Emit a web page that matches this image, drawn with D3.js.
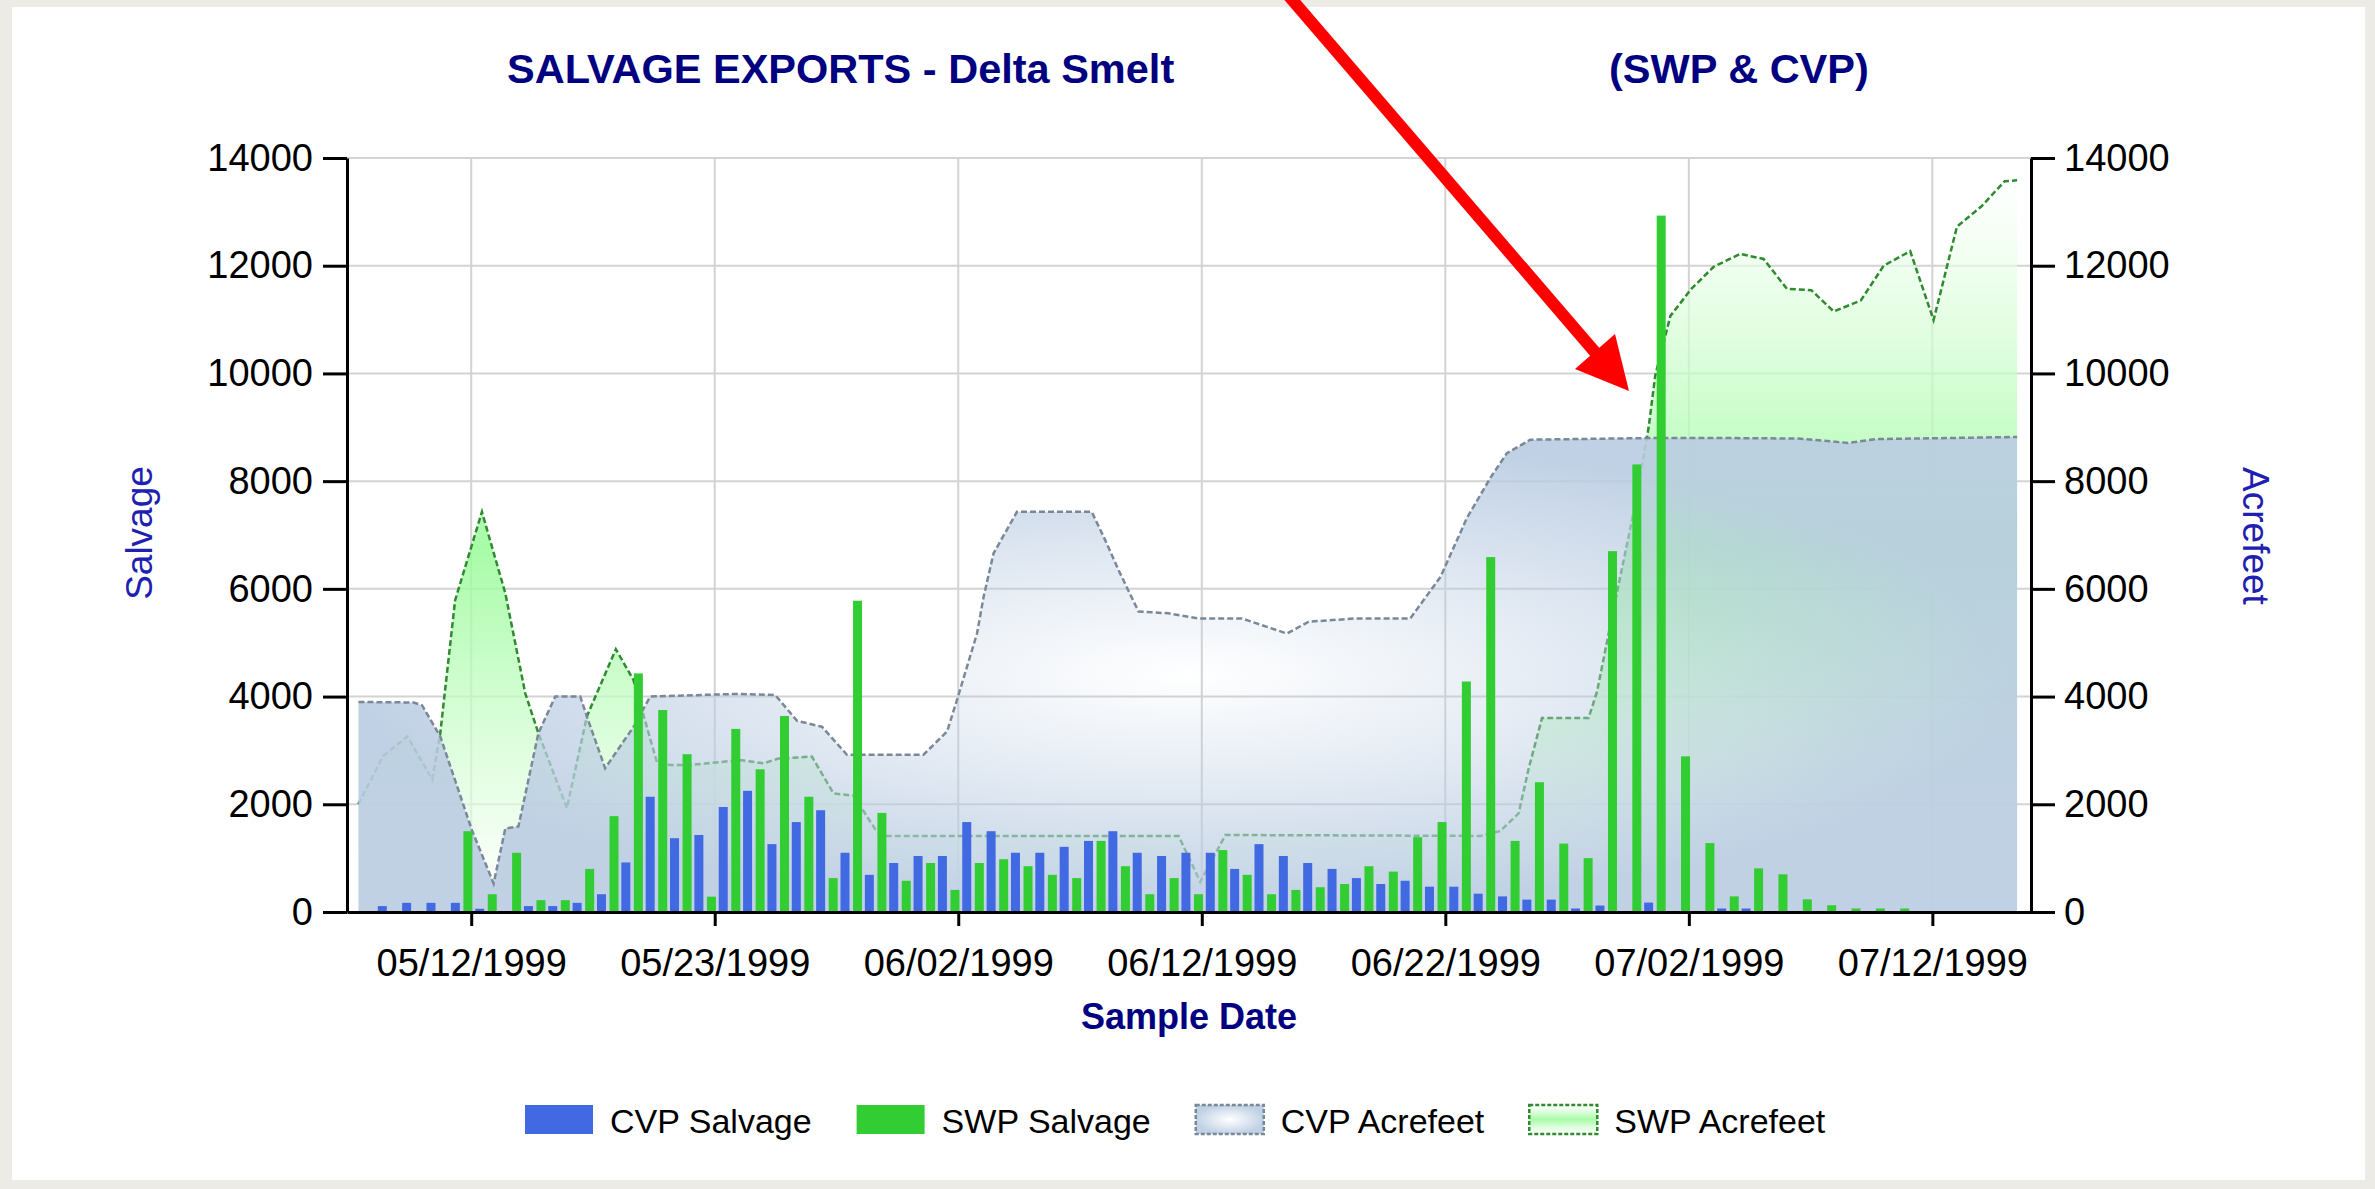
<!DOCTYPE html>
<html>
<head>
<meta charset="utf-8">
<script src="https://cdn.jsdelivr.net/npm/d3@7"></script>
<style>
  body { margin: 0; background: #ecebe6; }
  svg { display: block; font-family: "Liberation Sans", Arial, sans-serif; }
</style>
</head>
<body>
<svg id="chart" width="2375" height="1189"></svg>
<script>
// sample index of each labelled date, and the labels
const tickIndex = [4, 14, 24, 34, 44, 54, 64];
const tickLabels = ["05/12/1999", "05/23/1999", "06/02/1999", "06/12/1999",
  "06/22/1999", "07/02/1999", "07/12/1999"];
const yTicks = [0, 2000, 4000, 6000, 8000, 10000, 12000, 14000];

// daily salvage, one value per sample
const cvpSalvage = [110, 170, 170, 170, 60, 0, 110, 110, 170, 330,
  920, 2140, 1370, 1430, 1950, 2250, 1260, 1670, 1890, 1100,
  690, 910, 1040, 1040, 1670, 1500, 1100, 1100, 1210, 1320,
  1500, 1100, 1040, 1100, 1100, 800, 1260, 1040, 910, 800,
  630, 520, 580, 470, 470, 340, 290, 230, 230, 65,
  120, 0, 175, 0, 0, 65, 65, 0, 0, 0,
  0, 0, 0, 0, 0, 0, 0, 0];
const swpSalvage = [0, 0, 0, 0, 1500, 330, 1100, 220, 220, 800,
  1780, 4430, 3750, 2930, 285, 3400, 2650, 3640, 2140, 630,
  5780, 1840, 580, 910, 410, 910, 980, 850, 690, 630,
  1320, 850, 330, 630, 330, 1150, 690, 330, 410, 460,
  520, 850, 750, 1390, 1670, 4280, 6590, 1320, 2410, 1270,
  1000, 6700, 8310, 12930, 2890, 1280, 290, 810, 700, 235,
  125, 65, 65, 65, 0, 0, 0, 0];

// exports (acre-feet): sample time (in sample-index units) and value
const cvpAcreDay = [-0.63, 1.63, 1.98, 2.73, 4.03, 4.92, 5.40, 5.94, 6.76, 7.45,
  8.48, 8.75, 9.50, 10.67, 11.35, 14.91, 16.48, 17.38, 18.40, 19.43,
  22.57, 23.54, 23.95, 24.77, 25.04, 25.45, 26.41, 29.48, 30.04, 30.58,
  31.40, 32.64, 33.87, 35.65, 37.50, 38.39, 40.30, 42.56, 43.80, 44.89,
  45.85, 46.53, 47.49, 52.28, 55.70, 58.50, 60.55, 61.66, 67.48];
const cvpAcreFeet = [3900, 3890, 3840, 3260, 1520, 530, 1550, 1590, 3320, 4000,
  4000, 3630, 2670, 3440, 4000, 4050, 4030, 3550, 3440, 2920,
  2920, 3350, 3940, 5170, 5850, 6660, 7430, 7430, 6900, 6350,
  5580, 5545, 5450, 5450, 5170, 5390, 5450, 5450, 6220, 7320,
  8060, 8520, 8770, 8800, 8800, 8790, 8710, 8780, 8820];
const swpAcreDay = [-0.64, 0.39, 1.38, 2.40, 2.73, 3.34, 4.44, 5.40, 6.22, 6.76,
  7.93, 8.75, 9.94, 10.66, 11.64, 12.19, 12.99, 15.05, 16.00, 16.62,
  17.99, 18.88, 19.70, 20.66, 21.07, 33.05, 33.94, 34.97, 45.44, 46.26,
  47.01, 47.42, 47.97, 49.88, 50.23, 50.78, 51.39, 51.73, 52.35, 52.62,
  53.24, 54.10, 55.02, 56.11, 57.07, 58.03, 59.03, 59.95, 61.06, 62.00,
  63.09, 64.05, 65.01, 66.01, 66.97, 67.48];
const swpAcreFeet = [2000, 2900, 3260, 2460, 3320, 5790, 7430, 5920, 4060, 3320,
  1930, 3630, 4880, 4310, 2760, 2730, 2730, 2820, 2760, 2850,
  2885, 2200, 2160, 1490, 1411, 1411, 560, 1430, 1413, 1505,
  1830, 2660, 3600, 3600, 4090, 5340, 6680, 7420, 9000, 9960,
  11065, 11570, 11980, 12220, 12125, 11570, 11545, 11150, 11355, 12000,
  12270, 10990, 12726, 13100, 13570, 13585];

const legendNames = ["CVP Salvage", "SWP Salvage", "CVP Acrefeet", "SWP Acrefeet"];

//********** SETUP ***********//
const svg = d3.select("#chart");
const plot = { left: 347, right: 2031, top: 158, bottom: 912 };
const navy = "#000080";

const x = d3.scaleLinear().domain([-1.1, 68.05]).range([plot.left, plot.right]);
const y = d3.scaleLinear().domain([0, 14000]).range([plot.bottom, plot.top]);
const barW = 9;

// white panel
svg.append("rect").attr("x", 12).attr("y", 7).attr("width", 2353).attr("height", 1173)
  .attr("fill", "#ffffff");

const defs = svg.append("defs");
const swpGrad = defs.append("linearGradient").attr("id", "swpGrad")
  .attr("x1", 0).attr("y1", 0).attr("x2", 0).attr("y2", 1);
swpGrad.append("stop").attr("offset", 0).attr("stop-color", "#ffffff").attr("stop-opacity", 0.6);
swpGrad.append("stop").attr("offset", 0.5).attr("stop-color", "#98fb98").attr("stop-opacity", 0.85);
swpGrad.append("stop").attr("offset", 1).attr("stop-color", "#ffffff").attr("stop-opacity", 0.6);

// centre of the CVP area is see-through, edges nearly opaque
const cvpGrad = defs.append("radialGradient").attr("id", "cvpGrad")
  .attr("cx", 0.5).attr("cy", 0.5).attr("r", 0.5);
cvpGrad.append("stop").attr("offset", 0).attr("stop-color", "#bacce2").attr("stop-opacity", 0);
cvpGrad.append("stop").attr("offset", 0.35).attr("stop-color", "#bacce2").attr("stop-opacity", 0.3);
cvpGrad.append("stop").attr("offset", 1).attr("stop-color", "#bacce2").attr("stop-opacity", 0.9);

//********** GRID ***********//
const grid = svg.append("g");
grid.selectAll(".hg").data(yTicks).join("line")
  .attr("x1", plot.left).attr("x2", plot.right)
  .attr("y1", d => y(d)).attr("y2", d => y(d))
  .attr("stroke", "#d3d3d3").attr("stroke-width", 2);
grid.selectAll(".vg").data(tickIndex).join("line")
  .attr("x1", d => x(d)).attr("x2", d => x(d))
  .attr("y1", plot.top).attr("y2", plot.bottom)
  .attr("stroke", "#d3d3d3").attr("stroke-width", 2);

//********** AREAS ***********//
const area = d3.area().x(d => x(d[0])).y0(y(0)).y1(d => y(d[1]));
const line = d3.line().x(d => x(d[0])).y(d => y(d[1]));
const swpPts = swpAcreDay.map((d, i) => [d, swpAcreFeet[i]]);
const cvpPts = cvpAcreDay.map((d, i) => [d, cvpAcreFeet[i]]);

svg.append("path").attr("d", area(swpPts)).attr("fill", "url(#swpGrad)");
svg.append("path").attr("d", line(swpPts)).attr("fill", "none")
  .attr("stroke", "#2e8b2e").attr("stroke-width", 2.5).attr("stroke-dasharray", "6,3");
svg.append("path").attr("d", area(cvpPts)).attr("fill", "url(#cvpGrad)");
svg.append("path").attr("d", line(cvpPts)).attr("fill", "none")
  .attr("stroke", "#7a8898").attr("stroke-width", 2.5).attr("stroke-dasharray", "6,3");

//********** BARS ***********//
svg.append("g").selectAll("rect").data(swpSalvage).join("rect")
  .attr("x", (d, i) => x(i) - 3.3 - barW / 2)
  .attr("y", d => y(d))
  .attr("width", barW)
  .attr("height", d => y(0) - y(d))
  .attr("fill", "#32cd32");
svg.append("g").selectAll("rect").data(cvpSalvage).join("rect")
  .attr("x", (d, i) => x(i) + 8.5 - barW / 2)
  .attr("y", d => y(d))
  .attr("width", barW)
  .attr("height", d => y(0) - y(d))
  .attr("fill", "#4169e1");

//********** AXES ***********//
function styleAxis(g) {
  g.select(".domain").attr("stroke", "#000").attr("stroke-width", 3);
  g.selectAll(".tick line").attr("stroke", "#000").attr("stroke-width", 3);
  g.selectAll(".tick text").attr("fill", "#000").style("font-size", "38px")
    .style("font-family", "'Liberation Sans', Arial, sans-serif");
}
svg.append("g").attr("transform", `translate(${plot.left},0)`)
  .call(d3.axisLeft(y).tickValues(yTicks).tickSize(24).tickSizeOuter(0).tickPadding(10)
    .tickFormat(d3.format("d")))
  .call(styleAxis);
svg.append("g").attr("transform", `translate(${plot.right},0)`)
  .call(d3.axisRight(y).tickValues(yTicks).tickSize(24).tickSizeOuter(0).tickPadding(9)
    .tickFormat(d3.format("d")))
  .call(styleAxis);
svg.append("g").attr("transform", `translate(0,${plot.bottom})`)
  .call(d3.axisBottom(x).tickValues(tickIndex).tickSize(14).tickSizeOuter(0).tickPadding(23)
    .tickFormat((d, i) => tickLabels[i]))
  .call(styleAxis);

//********** TITLES ***********//
svg.append("text").attr("x", 507).attr("y", 83).attr("fill", navy)
  .style("font-size", "41.5px").style("font-weight", "bold")
  .text("SALVAGE EXPORTS - Delta Smelt");
svg.append("text").attr("x", 1609).attr("y", 83).attr("fill", navy)
  .style("font-size", "41.5px").style("font-weight", "bold")
  .text("(SWP & CVP)");
svg.append("text").attr("x", (plot.left + plot.right) / 2).attr("y", 1029)
  .attr("text-anchor", "middle").attr("fill", navy)
  .style("font-size", "36px").style("font-weight", "bold")
  .text("Sample Date");
svg.append("text").attr("transform", "translate(152,533) rotate(-90)")
  .attr("text-anchor", "middle").attr("fill", "#2020b0")
  .style("font-size", "37px").text("Salvage");
svg.append("text").attr("transform", "translate(2243,536) rotate(90)")
  .attr("text-anchor", "middle").attr("fill", "#2020b0")
  .style("font-size", "37px").text("Acrefeet");

//********** LEGEND ***********//
const legend = svg.append("g").attr("transform", "translate(525,1105)");
const iconW = 68, iconH = 29, iconGap = 17, itemGap = 45;
let lx = 0;
legendNames.forEach((name, i) => {
  const item = legend.append("g").attr("transform", `translate(${lx},0)`);
  const icon = item.append("rect").attr("x", 0).attr("y", 0)
    .attr("width", iconW).attr("height", iconH);
  if (i === 0) icon.attr("fill", "#4169e1");
  if (i === 1) icon.attr("fill", "#32cd32");
  if (i === 2) icon.attr("fill", "url(#cvpGrad)").attr("stroke", "#7a8898")
    .attr("stroke-width", 2.5).attr("stroke-dasharray", "4,2");
  if (i === 3) icon.attr("fill", "url(#swpGrad)").attr("stroke", "#2e8b2e")
    .attr("stroke-width", 2.5).attr("stroke-dasharray", "4,2");
  const t = item.append("text").attr("x", iconW + iconGap).attr("y", 28)
    .attr("fill", "#000").style("font-size", "34px").text(name);
  lx += iconW + iconGap + t.node().getComputedTextLength() + itemGap;
});

//********** ANNOTATION ARROW ***********//
svg.append("line").attr("x1", 1288).attr("y1", -5).attr("x2", 1600).attr("y2", 358)
  .attr("stroke", "#ff0000").attr("stroke-width", 12);
svg.append("path").attr("d", "M1629,391 L1575,369 L1615,334 Z").attr("fill", "#ff0000");
</script>
</body>
</html>
